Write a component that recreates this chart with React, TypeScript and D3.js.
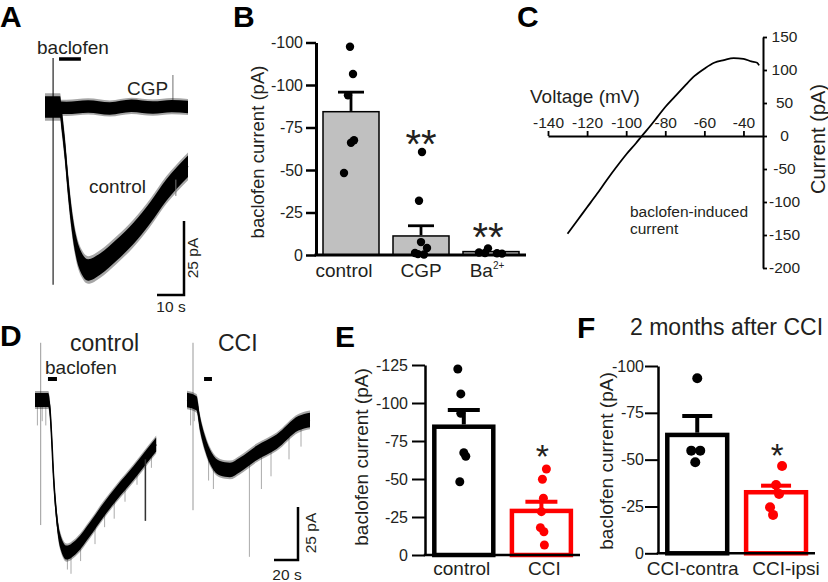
import * as d3 from 'd3';
import React, { useEffect, useRef } from 'react';

// ---------- A: example traces (time in s, current in pA) ----------
const aControlTime = [0, 3, 5.6, 6.2, 7.4, 8.6, 9.9, 11.5, 13.6, 16, 20.4, 26.5, 32.7, 38.9, 45, 53];
const aControlCurrent = [0, 0, 0, -4.4, -14.5, -27, -38, -47, -52.8, -55, -53, -48.3, -42.7, -35.8, -28, -20];
const aCgpTime = [0, 8, 16, 24, 32, 40, 47, 53];
const aCgpCurrent = [0.5, -0.3, 0.2, -0.5, 0.4, -0.2, 0.3, 0];
const aBaclofen = [5.2, 13.3];
const aArtifactTime = [3, 47.4];
const aArtifactTop = [16.5, 10.8];
const aArtifactBottom = [-60, 2.4];
const aSpikeTime = [48.5];
const aSpikeBottom = [-30];

// ---------- B: summary (pA, plotted as negative) ----------
const bCategories = ['control', 'CGP', 'Ba'];
const bMeans = [84.3, 11.2, 2];
const bSems = [11.5, 6, 0];
const bControlDots = [122.5, 106.5, 94, 67.5, 66, 48.2];
const bCgpDots = [60.6, 31.9, 7.6, 4.1, 1.2, 0.5, 0.3];
const bBaDots = [3.9, 1.5, 1.2, 1.0, 0.8];
const bTicks = [0, 25, 50, 75, 100, 125];
const bTickLabels = ['0', '-25', '-50', '-75', '-100', '-100'];

// ---------- C: I-V relation ----------
const cVoltage = [-130, -125, -120, -115, -110, -105, -100, -95, -92, -88, -84, -80, -75, -70, -65, -60, -55, -50, -45, -40, -36, -33, -32];
const cCurrent = [-148, -128, -108, -88, -67, -47, -28, -11, 0, 14, 29, 44, 60, 76, 91, 102, 111, 115, 118, 117, 113, 111, 107];
const cVoltTicks = [-140, -120, -100, -80, -60, -40];
const cCurrTicks = [-200, -150, -100, -50, 0, 50, 100, 150];

// ---------- D: example traces (time in s, current in pA) ----------
const dControlTime = [0, 11, 12.5, 14, 15.3, 18, 20.8, 26.4, 34.7, 45.8, 57, 68, 82, 93, 101];
const dControlCurrent = [0, 0, -4.7, -19, -34.6, -55, -66, -72, -69, -61, -52, -44, -34.6, -26.7, -21];
const dCciTime = [0, 8, 10.8, 15, 20.6, 27.5, 35.8, 44, 58, 74.7, 92.8, 102.5];
const dCciCurrent = [0, -1.6, -11, -20.4, -28.3, -32.2, -33, -30.7, -25, -19.7, -11, -9.4];
const dControlBaclofen = [10.8, 18.3];
const dCciBaclofen = [14.2, 20.8];
const dControlSpikeTime = [2, 6, 9, 27, 30, 38, 50, 58, 66, 75, 85, 92, 97];
const dControlSpikeBottom = [-12, -10, -12, -80, -82, -76, -68, -60, -56, -48, -40, -57, -32];
const dCciSpikeTime = [3, 6, 18, 22, 52, 62, 70, 85, 95];
const dCciSpikeBottom = [-12, -10, -38, -42, -74, -42, -36, -28, -22];
const dArtifactTime = [4.75, 5];
const dArtifactTop = [27, 27];
const dArtifactBottom = [-59, -52];

// ---------- E ----------
const eCategories = ['control', 'CCI'];
const eMeans = [84.4, 29];
const eSems = [11, 6];
const eControlDots = [122.4, 106, 93.2, 67.3, 65, 48.2];
const eCciDots = [56.6, 49.8, 37.3, 28.5, 18, 15.3, 6.6];
const eTicks = [0, 25, 50, 75, 100, 125];

// ---------- F ----------
const fCategories = ['CCI-contra', 'CCI-ipsi'];
const fMeans = [63.2, 32.6];
const fSems = [10.1, 3.5];
const fContraDots = [93.5, 54.8, 54.8, 48.6];
const fIpsiDots = [46.6, 36.5, 31.7, 24.6, 20.5];
const fTicks = [0, 25, 50, 75, 100];

const FONT = '"Liberation Sans", Arial, Helvetica, sans-serif';
const INK = '#231f20';
const RED = '#ff0000';

const negLabel = (d: number) => (d === 0 ? '0' : '-' + d);

function addText(g: any, str: string, x: number, y: number, size: number, anchor = 'start', weight = 'normal') {
  return g.append('text')
    .attr('x', x).attr('y', y)
    .attr('font-size', size)
    .attr('font-weight', weight)
    .attr('text-anchor', anchor)
    .attr('fill', INK)
    .text(str);
}

function addRotated(g: any, str: string, x: number, y: number, size: number) {
  return g.append('text')
    .attr('transform', `translate(${x},${y}) rotate(-90)`)
    .attr('text-anchor', 'middle')
    .attr('font-size', size)
    .attr('fill', INK)
    .text(str);
}

// noisy current trace: vertical noise band around the mean current
function drawTrace(g: any, x: any, y: any, times: number[], currents: number[], noise: number) {
  const pts = times.map((t, k) => [t, currents[k]] as [number, number]);
  const band = (n: number) => d3.area<[number, number]>()
    .x(d => x(d[0]))
    .y0(d => y(d[1] - n))
    .y1(d => y(d[1] + n))
    .curve(d3.curveMonotoneX);
  g.append('path').attr('d', band(noise * 1.3)(pts)).attr('fill', '#000').attr('opacity', 0.35);
  g.append('path').attr('d', band(noise)(pts)).attr('fill', '#000');
  const line = d3.line<[number, number]>().x(d => x(d[0])).y(d => y(d[1])).curve(d3.curveMonotoneX);
  g.append('path').attr('d', line(pts)).attr('fill', 'none').attr('stroke', '#000').attr('stroke-width', 1.6);
}

function drawSpikes(g: any, x: any, y: any, times: number[], currents: number[], spikeTimes: number[], spikeBottoms: number[], color: string) {
  const level = d3.scaleLinear().domain(times).range(currents);
  spikeTimes.forEach((t, k) => {
    g.append('line')
      .attr('x1', x(t)).attr('x2', x(t))
      .attr('y1', y(level(t))).attr('y2', y(spikeBottoms[k]))
      .attr('stroke', color).attr('stroke-width', 1);
  });
}

function drawBarPanel(g: any, cfg: any) {
  const { x, y, cats, means, sems, dots, jitter, colors, fills, barStroke, errStroke, capW, dotR,
    ticks, tickFormat, tickLen, tickPad, axisStroke, tickStroke, xEnd, tickSize } = cfg;
  const cx = (c: string) => x(c) + x.bandwidth() / 2;

  cats.forEach((c: string, k: number) => {
    g.append('rect')
      .attr('x', x(c)).attr('y', y(means[k]))
      .attr('width', x.bandwidth()).attr('height', y(0) - y(means[k]))
      .attr('fill', fills[k]).attr('stroke', colors[k]).attr('stroke-width', barStroke);
  });

  cats.forEach((c: string, k: number) => {
    if (!sems[k]) return;
    const top = y(means[k] + sems[k]);
    g.append('line').attr('x1', cx(c)).attr('x2', cx(c))
      .attr('y1', y(means[k]) - barStroke / 2).attr('y2', top)
      .attr('stroke', colors[k]).attr('stroke-width', errStroke);
    g.append('line').attr('x1', cx(c) - capW / 2).attr('x2', cx(c) + capW / 2)
      .attr('y1', top).attr('y2', top)
      .attr('stroke', colors[k]).attr('stroke-width', errStroke);
  });

  // axes
  const x0 = x.range()[0];
  const axis = d3.axisLeft(y).tickValues(ticks).tickFormat(tickFormat)
    .tickSize(tickLen).tickSizeOuter(0).tickPadding(tickPad);
  const ag = g.append('g').attr('transform', `translate(${x0},0)`).call(axis);
  ag.select('.domain').attr('stroke', '#000').attr('stroke-width', axisStroke);
  ag.selectAll('.tick line').attr('stroke', '#000').attr('stroke-width', tickStroke);
  ag.selectAll('.tick text').attr('font-size', tickSize).attr('font-family', FONT).attr('fill', INK);
  g.append('line').attr('x1', x0 - axisStroke / 2).attr('x2', xEnd)
    .attr('y1', y(0)).attr('y2', y(0))
    .attr('stroke', '#000').attr('stroke-width', axisStroke);

  cats.forEach((c: string, k: number) => {
    dots[k].forEach((v: number, j: number) => {
      g.append('circle').attr('cx', cx(c) + jitter[k][j]).attr('cy', y(v))
        .attr('r', dotR).attr('fill', fills[k] !== '#fff' ? '#000' : colors[k]);
    });
  });
}

function App() {
  const ref = useRef<SVGSVGElement>(null);

  useEffect(() => {
    const svg = d3.select(ref.current);
    svg.selectAll('*').remove();
    svg.attr('font-family', FONT);

    // panel letters
    [['A', 0, 27], ['B', 233, 27], ['C', 517, 27], ['D', 0, 346], ['E', 335, 347], ['F', 577, 338]]
      .forEach(([l, lx, ly]) => addText(svg, l as string, lx as number, ly as number, 30, 'start', 'bold').attr('fill', '#000'));

    // ===== A =====
    const gA = svg.append('g');
    const ax = d3.scaleLinear().domain([0, 53]).range([45, 188]);
    const ay = d3.scaleLinear().domain([0, -55]).range([107, 270]);
    aArtifactTime.forEach((t, k) => {
      gA.append('line').attr('x1', ax(t)).attr('x2', ax(t))
        .attr('y1', ay(aArtifactTop[k])).attr('y2', ay(aArtifactBottom[k]))
        .attr('stroke', k === 0 ? '#222' : '#888').attr('stroke-width', 1.2);
    });
    drawTrace(gA, ax, ay, aCgpTime, aCgpCurrent, 2.1);
    drawTrace(gA, ax, ay, aControlTime, aControlCurrent, 3.6);
    drawSpikes(gA, ax, ay, aControlTime, aControlCurrent, aSpikeTime, aSpikeBottom, '#777');
    gA.append('line').attr('x1', ax(aBaclofen[0])).attr('x2', ax(aBaclofen[1]))
      .attr('y1', 59).attr('y2', 59).attr('stroke', '#000').attr('stroke-width', 3.5);
    addText(gA, 'baclofen', 37, 54, 19);
    addText(gA, 'CGP', 127, 95, 19);
    addText(gA, 'control', 89, 193, 19);
    // scale bar 10 s / 25 pA
    const aSbX = 184, aSbY = 295;
    gA.append('path')
      .attr('d', `M${aSbX - (ax(10) - ax(0))},${aSbY}H${aSbX}V${aSbY - (ay(-25) - ay(0))}`)
      .attr('fill', 'none').attr('stroke', '#000').attr('stroke-width', 2.5);
    addText(gA, '10 s', 171, 312, 15.5, 'middle');
    addRotated(gA, '25 pA', 198, 258, 15.5);

    // ===== B =====
    const gB = svg.append('g');
    const by = d3.scaleLinear().domain([0, 125]).range([255, 42.5]);
    const bx = d3.scaleBand().domain(bCategories).range([316, 526]).paddingInner(0.2).paddingOuter(0.1);
    drawBarPanel(gB, {
      x: bx, y: by, cats: bCategories, means: bMeans, sems: bSems,
      dots: [bControlDots, bCgpDots, bBaDots],
      jitter: [[-1, 2, -3, 3, 0, -7], [1, -2, 0, 6, -6, -3, 3], [-3, -12, -6, 6, 11]],
      colors: ['#000', '#000', '#000'], fills: ['#c0c0c0', '#c0c0c0', '#c0c0c0'],
      barStroke: 1.5, errStroke: 2.8, capW: 26, dotR: 4.2,
      ticks: bTicks, tickFormat: (_d: number, i: number) => bTickLabels[i],
      tickLen: 10, tickPad: 3, axisStroke: 3, tickStroke: 2.5, xEnd: 526, tickSize: 16,
    });
    addRotated(gB, 'baclofen current (pA)', 264, 152, 18.5);
    addText(gB, 'control', bx('control')! + bx.bandwidth() / 2 - 7, 277, 19, 'middle');
    addText(gB, 'CGP', bx('CGP')! + bx.bandwidth() / 2, 277, 19, 'middle');
    const ba = addText(gB, 'Ba', bx('Ba')! + bx.bandwidth() / 2 - 4, 277, 19, 'middle');
    ba.append('tspan').attr('dy', -8).attr('font-size', 10).text('2+');
    addText(gB, '**', bx('CGP')! + bx.bandwidth() / 2, 158, 40, 'middle');
    addText(gB, '**', bx('Ba')! + bx.bandwidth() / 2 - 3, 251, 40, 'middle');

    // ===== C =====
    const gC = svg.append('g');
    const cx = d3.scaleLinear().domain([-140, -30]).range([548, 763]);
    const cy = d3.scaleLinear().domain([-200, 150]).range([268, 37]);
    const xAxisC = gC.append('g').attr('transform', `translate(0,${cy(0)})`)
      .call(d3.axisTop(cx).tickValues(cVoltTicks).tickFormat(d => String(d)).tickSize(5).tickSizeOuter(0).tickPadding(3));
    const yAxisC = gC.append('g').attr('transform', `translate(${cx(-30)},0)`)
      .call(d3.axisRight(cy).tickValues(cCurrTicks).tickFormat(d => String(d)).tickSize(4).tickSizeOuter(0).tickPadding(3));
    [xAxisC, yAxisC].forEach(a => {
      a.select('.domain').attr('stroke', '#000').attr('stroke-width', 2);
      a.selectAll('.tick line').attr('stroke', '#000').attr('stroke-width', 1.8);
      a.selectAll('.tick text').attr('font-size', 15.5).attr('font-family', FONT).attr('fill', INK);
    });
    yAxisC.selectAll('.tick text').attr('text-anchor', 'middle').attr('x', 21.5);
    const ivLine = d3.line<number>().x((_d, k) => cx(cVoltage[k])).y(d => cy(d)).curve(d3.curveMonotoneX);
    gC.append('path').attr('d', ivLine(cCurrent)).attr('fill', 'none').attr('stroke', '#000').attr('stroke-width', 1.8);
    addText(gC, 'Voltage (mV)', 530, 103, 19);
    addRotated(gC, 'Current (pA)', 825, 139, 20);
    addText(gC, 'baclofen-induced', 630, 217, 15.5);
    addText(gC, 'current', 630, 234, 15.5);

    // ===== D =====
    const gD = svg.append('g');
    const dy = d3.scaleLinear().domain([0, -72]).range([400, 552.6]);
    const dxControl = d3.scaleLinear().domain([0, 100]).range([35, 155]);
    const dxCci = d3.scaleLinear().domain([0, 100]).range([187, 307]);
    [dxControl, dxCci].forEach((sx, k) => {
      gD.append('line').attr('x1', sx(dArtifactTime[k])).attr('x2', sx(dArtifactTime[k]))
        .attr('y1', dy(dArtifactTop[k])).attr('y2', dy(dArtifactBottom[k]))
        .attr('stroke', '#999').attr('stroke-width', 1);
    });
    drawSpikes(gD, dxControl, dy, dControlTime, dControlCurrent, dControlSpikeTime, dControlSpikeBottom, '#aaa');
    drawSpikes(gD, dxCci, dy, dCciTime, dCciCurrent, dCciSpikeTime, dCciSpikeBottom, '#aaa');
    drawTrace(gD, dxControl, dy, dControlTime, dControlCurrent, 3.3);
    drawTrace(gD, dxCci, dy, dCciTime, dCciCurrent, 3.4);
    gD.append('line').attr('x1', dxControl(92)).attr('x2', dxControl(92))
      .attr('y1', dy(-28)).attr('y2', dy(-57)).attr('stroke', '#333').attr('stroke-width', 1.5);
    gD.append('line').attr('x1', dxControl(dControlBaclofen[0])).attr('x2', dxControl(dControlBaclofen[1]))
      .attr('y1', 379).attr('y2', 379).attr('stroke', '#000').attr('stroke-width', 4);
    gD.append('line').attr('x1', dxCci(dCciBaclofen[0])).attr('x2', dxCci(dCciBaclofen[1]))
      .attr('y1', 379).attr('y2', 379).attr('stroke', '#000').attr('stroke-width', 4);
    addText(gD, 'control', 70, 351, 23);
    addText(gD, 'CCI', 218, 351, 23);
    addText(gD, 'baclofen', 45, 374, 19);
    const dSbX = 298, dSbY = 560;
    gD.append('path')
      .attr('d', `M${dSbX - (dxControl(20) - dxControl(0))},${dSbY}H${dSbX}V${dSbY - (dy(-25) - dy(0))}`)
      .attr('fill', 'none').attr('stroke', '#000').attr('stroke-width', 2.5);
    addText(gD, '20 s', 287, 580, 15.5, 'middle');
    addRotated(gD, '25 pA', 316, 533, 15.5);

    // ===== E =====
    const gE = svg.append('g');
    const ey = d3.scaleLinear().domain([0, 125]).range([555, 365]);
    const ex = d3.scaleBand().domain(eCategories).range([425, 580.2]).paddingInner(0.24).paddingOuter(0.12);
    drawBarPanel(gE, {
      x: ex, y: ey, cats: eCategories, means: eMeans, sems: eSems,
      dots: [eControlDots, eCciDots],
      jitter: [[-6, -3, -3, 0, 2, -4], [5, 1, 2, 0, -1, 2.5, 3]],
      colors: ['#000', RED], fills: ['#fff', '#fff'],
      barStroke: 4.5, errStroke: 4, capW: 32, dotR: 4.5,
      ticks: eTicks, tickFormat: negLabel,
      tickLen: 13, tickPad: 4, axisStroke: 2.5, tickStroke: 2, xEnd: 580, tickSize: 16,
    });
    addRotated(gE, 'baclofen current (pA)', 368, 457, 19);
    addText(gE, 'control', ex('control')! + ex.bandwidth() / 2 - 2, 575, 19, 'middle');
    addText(gE, 'CCI', ex('CCI')! + ex.bandwidth() / 2 + 3, 575, 19, 'middle');
    addText(gE, '*', ex('CCI')! + ex.bandwidth() / 2 + 1, 468, 34, 'middle');

    // ===== F =====
    const gF = svg.append('g');
    const fy = d3.scaleLinear().domain([0, 100]).range([553.3, 366]);
    const fx = d3.scaleBand().domain(fCategories).range([658, 815.3]).paddingInner(0.24).paddingOuter(0.118);
    drawBarPanel(gF, {
      x: fx, y: fy, cats: fCategories, means: fMeans, sems: fSems,
      dots: [fContraDots, fIpsiDots],
      jitter: [[0, -6, 3, -2], [6, 0, 3, -6, -3]],
      colors: ['#000', RED], fills: ['#fff', '#fff'],
      barStroke: 4.5, errStroke: 4, capW: 30, dotR: 5,
      ticks: fTicks, tickFormat: negLabel,
      tickLen: 13, tickPad: 1, axisStroke: 2.5, tickStroke: 2, xEnd: 815, tickSize: 16,
    });
    addRotated(gF, 'baclofen current (pA)', 613, 461, 19);
    addText(gF, 'CCI-contra', fx('CCI-contra')! + fx.bandwidth() / 2 - 4.5, 575, 19, 'middle');
    addText(gF, 'CCI-ipsi', fx('CCI-ipsi')! + fx.bandwidth() / 2 + 10, 575, 19, 'middle');
    addText(gF, '*', fx('CCI-ipsi')! + fx.bandwidth() / 2 + 1, 467, 33, 'middle');
    addText(gF, '2 months after CCI', 630, 335, 23);
  }, []);

  return (
    <svg ref={ref} width={828} height={582}
      style={{ position: 'absolute', left: 0, top: 0, background: '#fff' }} />
  );
}

export default App;
